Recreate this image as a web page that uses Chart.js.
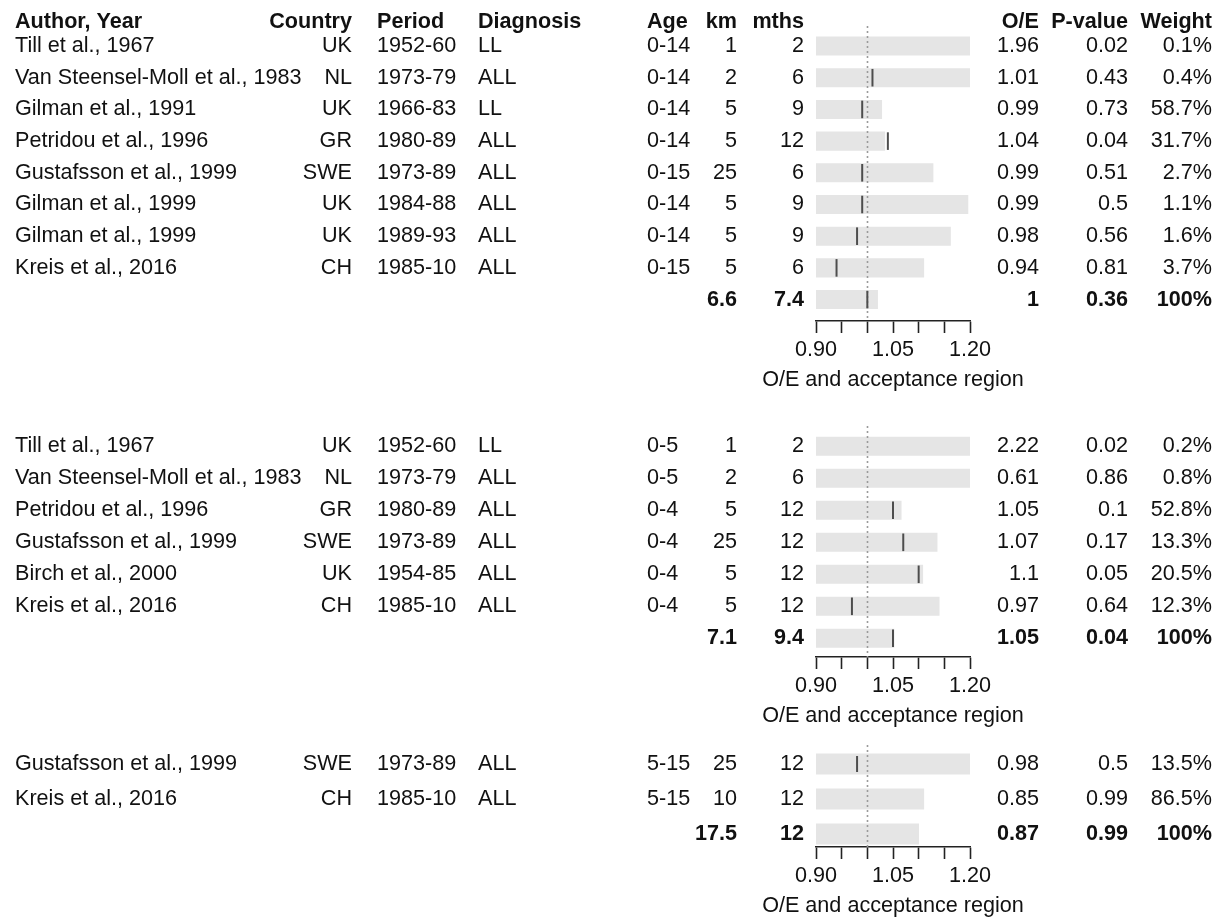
<!DOCTYPE html>
<html>
<head>
<meta charset="utf-8">
<script src="https://cdn.jsdelivr.net/npm/chart.js@4.4.1/dist/chart.umd.min.js"></script>
<style>
  body { margin: 0; background: #fff; }
  canvas { position: absolute; left: 0; }
</style>
</head>
<body>
<canvas id="s1"></canvas>
<canvas id="s2"></canvas>
<canvas id="s3"></canvas>
<script>
// ---- data: last entry of km/mths/oe/pval/weight/upper is the pooled row ----

// ages 0-14 / 0-15
const authors1 = ['Till et al., 1967', 'Van Steensel-Moll et al., 1983', 'Gilman et al., 1991', 'Petridou et al., 1996',
                  'Gustafsson et al., 1999', 'Gilman et al., 1999', 'Gilman et al., 1999', 'Kreis et al., 2016'];
const countries1 = ['UK', 'NL', 'UK', 'GR', 'SWE', 'UK', 'UK', 'CH'];
const periods1 = ['1952-60', '1973-79', '1966-83', '1980-89', '1973-89', '1984-88', '1989-93', '1985-10'];
const diagnosis1 = ['LL', 'ALL', 'LL', 'ALL', 'ALL', 'ALL', 'ALL', 'ALL'];
const ages1 = ['0-14', '0-14', '0-14', '0-14', '0-15', '0-14', '0-14', '0-15'];
const km1 = [1, 2, 5, 5, 25, 5, 5, 5, 6.6];
const mths1 = [2, 6, 9, 12, 6, 9, 9, 6, 7.4];
const oe1 = [1.96, 1.01, 0.99, 1.04, 0.99, 0.99, 0.98, 0.94, 1];
const pval1 = [0.02, 0.43, 0.73, 0.04, 0.51, 0.5, 0.56, 0.81, 0.36];
const weight1 = ['0.1%', '0.4%', '58.7%', '31.7%', '2.7%', '1.1%', '1.6%', '3.7%', '100%'];
const upper1 = [1.20, 1.20, 1.028, 1.034, 1.128, 1.196, 1.162, 1.110, 1.020];

// ages 0-4 / 0-5
const authors2 = ['Till et al., 1967', 'Van Steensel-Moll et al., 1983', 'Petridou et al., 1996',
                  'Gustafsson et al., 1999', 'Birch et al., 2000', 'Kreis et al., 2016'];
const countries2 = ['UK', 'NL', 'GR', 'SWE', 'UK', 'CH'];
const periods2 = ['1952-60', '1973-79', '1980-89', '1973-89', '1954-85', '1985-10'];
const diagnosis2 = ['LL', 'ALL', 'ALL', 'ALL', 'ALL', 'ALL'];
const ages2 = ['0-5', '0-5', '0-4', '0-4', '0-4', '0-4'];
const km2 = [1, 2, 5, 25, 5, 5, 7.1];
const mths2 = [2, 6, 12, 12, 12, 12, 9.4];
const oe2 = [2.22, 0.61, 1.05, 1.07, 1.1, 0.97, 1.05];
const pval2 = [0.02, 0.86, 0.1, 0.17, 0.05, 0.64, 0.04];
const weight2 = ['0.2%', '0.8%', '52.8%', '13.3%', '20.5%', '12.3%', '100%'];
const upper2 = [1.20, 1.20, 1.066, 1.136, 1.108, 1.140, 1.052];

// ages 5-15
const authors3 = ['Gustafsson et al., 1999', 'Kreis et al., 2016'];
const countries3 = ['SWE', 'CH'];
const periods3 = ['1973-89', '1985-10'];
const diagnosis3 = ['ALL', 'ALL'];
const ages3 = ['5-15', '5-15'];
const km3 = [25, 10, 17.5];
const mths3 = [12, 12, 12];
const oe3 = [0.98, 0.85, 0.87];
const pval3 = [0.5, 0.99, 0.99];
const weight3 = ['13.5%', '86.5%', '100%'];
const upper3 = [1.20, 1.110, 1.100];

const accLow = 0.90;          // left end of every acceptance region (axis start)
const refValue = 1.0;         // dotted null line
const xRange = [0.90, 1.20];
const tickLabels = ['0.90', '1.05', '1.20'];
const headers = ['Author, Year', 'Country', 'Period', 'Diagnosis', 'Age', 'km', 'mths', 'O/E', 'P-value', 'Weight'];
const axisTitle = 'O/E and acceptance region';

// ---- layout ----
const FONT = '"Liberation Sans", Arial, Helvetica, sans-serif';
const SIZE = 21.6;
const cols = [
  {x: 15, align: 'left'},    // author
  {x: 352, align: 'right'},  // country
  {x: 377, align: 'left'},   // period
  {x: 478, align: 'left'},   // diagnosis
  {x: 647, align: 'left'},   // age
  {x: 737, align: 'right'},  // km
  {x: 804, align: 'right'},  // mths
  {x: 1039, align: 'right'}, // O/E
  {x: 1128, align: 'right'}, // P-value
  {x: 1212, align: 'right'}  // weight
];

const sections = [
  {id: 's1', top: 0, height: 395, padTop: 26, yMin: -0.632, yMax: 8.676, bar: 18.4, tick: 8.8, header: true,
   authors: authors1, countries: countries1, periods: periods1, diagnosis: diagnosis1, ages: ages1,
   km: km1, mths: mths1, oe: oe1, pval: pval1, weight: weight1, upper: upper1},
  {id: 's2', top: 395, height: 336, padTop: 31, yMin: -0.634, yMax: 6.584, bar: 18.4, tick: 8.8, header: false,
   authors: authors2, countries: countries2, periods: periods2, diagnosis: diagnosis2, ages: ages2,
   km: km2, mths: mths2, oe: oe2, pval: pval2, weight: weight2, upper: upper2},
  {id: 's3', top: 731, height: 190, padTop: 14, yMin: -0.543, yMax: 2.371, bar: 20.2, tick: 8, header: false,
   authors: authors3, countries: countries3, periods: periods3, diagnosis: diagnosis3, ages: ages3,
   km: km3, mths: mths3, oe: oe3, pval: pval3, weight: weight3, upper: upper3}
];

// text columns, placed on the rows of the y scale
function tablePlugin(s) {
  return {
    id: 'table_' + s.id,
    afterDraw(chart) {
      const ctx = chart.ctx;
      const y = chart.scales.y;
      const x = chart.scales.x;
      ctx.save();
      ctx.fillStyle = '#111';
      ctx.textBaseline = 'middle';
      const put = (txt, c, py, bold) => {
        ctx.font = (bold ? 'bold ' : '') + SIZE + 'px ' + FONT;
        ctx.textAlign = cols[c].align;
        ctx.fillText(txt, cols[c].x, py);
      };
      if (s.header) {
        const py = y.getPixelForValue(0) - 23.5;
        headers.forEach((h, c) => put(h, c, py, true));
      }
      s.oe.forEach((v, i) => {
        const py = y.getPixelForValue(i);
        const pooled = i === s.authors.length;
        if (!pooled) {
          put(s.authors[i], 0, py);
          put(s.countries[i], 1, py);
          put(s.periods[i], 2, py);
          put(s.diagnosis[i], 3, py);
          put(s.ages[i], 4, py);
        }
        put(String(s.km[i]), 5, py, pooled);
        put(String(s.mths[i]), 6, py, pooled);
        put(String(v), 7, py, pooled);
        put(String(s.pval[i]), 8, py, pooled);
        put(s.weight[i], 9, py, pooled);
      });
      // axis title (the built-in one gets squeezed to the axis width)
      ctx.font = SIZE + 'px ' + FONT;
      ctx.textAlign = 'center';
      ctx.fillText(axisTitle, (x.left + x.right) / 2, x.top + 59.3);
      ctx.restore();
    }
  };
}

// dotted reference line, drawn over the grey regions and under the O/E ticks
const refLine = {
  id: 'refLine',
  afterDatasetDraw(chart, args) {
    if (args.meta.type !== 'bar') return;
    const {ctx, chartArea} = chart;
    const px = Math.round(chart.scales.x.getPixelForValue(refValue)) + 0.5;
    ctx.save();
    ctx.strokeStyle = '#9a9a9a';
    ctx.lineWidth = 1.6;
    ctx.setLineDash([2, 3]);
    ctx.beginPath();
    ctx.moveTo(px, chartArea.top);
    ctx.lineTo(px, chartArea.bottom);
    ctx.stroke();
    ctx.restore();
  }
};

sections.forEach(s => {
  const cv = document.getElementById(s.id);
  cv.width = 1223;
  cv.height = s.height;
  cv.style.top = s.top + 'px';
  cv.style.width = '1223px';
  cv.style.height = s.height + 'px';

  new Chart(cv, {
    type: 'bar',
    data: {
      labels: s.oe.map((_, i) => i),
      datasets: [
        {
          type: 'bar',
          indexAxis: 'y',
          order: 2,
          data: s.upper.map(u => [accLow, u]),
          backgroundColor: '#e5e5e5',
          borderWidth: 0,
          barThickness: s.bar
        },
        {
          type: 'line',
          indexAxis: 'y',
          order: 1,
          data: s.oe,
          showLine: false,
          pointStyle: 'line',
          pointRotation: 90,
          pointRadius: s.tick,
          pointHoverRadius: s.tick,
          pointBorderWidth: 2,
          pointBorderColor: '#4d4d4d',
          clip: 0
        }
      ]
    },
    options: {
      indexAxis: 'y',
      responsive: false,
      animation: false,
      devicePixelRatio: 1,
      layout: { padding: { left: 816, right: 253, top: s.padTop, bottom: 0 } },
      plugins: { legend: { display: false }, tooltip: { enabled: false } },
      scales: {
        y: {
          type: 'linear',
          reverse: true,
          min: s.yMin,
          max: s.yMax,
          offset: false,
          display: false,
          grid: { offset: false }
        },
        x: {
          type: 'linear',
          position: 'bottom',
          min: xRange[0],
          max: xRange[1],
          ticks: {
            stepSize: 0.05,
            autoSkip: false,
            maxRotation: 0,
            padding: 4,
            color: '#111',
            font: { family: FONT, size: SIZE },
            callback: v => {
              const t = Number(v).toFixed(2);
              return tickLabels.includes(t) ? t : '';
            }
          },
          grid: { drawOnChartArea: false, drawTicks: true, tickLength: 12, tickColor: '#222', tickWidth: 1.6 },
          border: { display: true, color: '#222', width: 1.6 },
          title: { display: false },
          afterFit: sc => { sc.height = 74; }
        }
      }
    },
    plugins: [refLine, tablePlugin(s)]
  });
});
</script>
</body>
</html>
